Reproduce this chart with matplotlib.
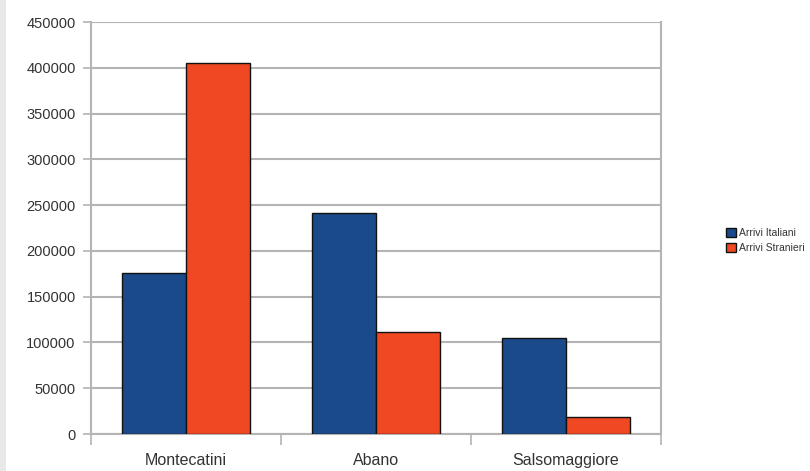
import numpy as np
import matplotlib
matplotlib.use("Agg")
import matplotlib.pyplot as plt
from matplotlib.patches import Rectangle

plt.rcParams['font.family'] = ['Liberation Sans', 'DejaVu Sans']

# dati
localita = ["Montecatini", "Abano", "Salsomaggiore"]
arrivi_italiani = [176000, 241000, 105000]
arrivi_stranieri = [405000, 111000, 19000]
serie = ["Arrivi Italiani", "Arrivi Stranieri"]
y_ticks = [0, 50000, 100000, 150000, 200000, 250000, 300000, 350000, 400000, 450000]

col_blu = "#1b4a8b"
col_rosso = "#f04822"
col_griglia = "#b4b4b4"

fig = plt.figure(figsize=(8.1, 4.71), dpi=100)
fig.patches.append(Rectangle((0, 0), 6 / 810, 1, transform=fig.transFigure,
                             facecolor="#e8e8e8", edgecolor="none"))
ax = fig.add_axes([91 / 810, 1 - 434 / 471, 570 / 810, 412 / 471])

x = np.arange(len(localita))
w = 0.335
ax.bar(x - w / 2, arrivi_italiani, w, color=col_blu, edgecolor="#111111",
       linewidth=1.0, label=serie[0], zorder=3)
ax.bar(x + w / 2, arrivi_stranieri, w, color=col_rosso, edgecolor="#111111",
       linewidth=1.0, label=serie[1], zorder=3)

ax.set_xlim(-0.5, len(localita) - 0.5)
ax.set_ylim(0, 450000)
ax.set_yticks(y_ticks)
ax.set_yticklabels([str(v) for v in y_ticks])
ax.yaxis.grid(True, color=col_griglia, linewidth=1.5, zorder=0)

# etichette categorie al centro, tacche tra le categorie
ax.set_xticks(x)
ax.set_xticklabels(localita)
ax.set_xticks(np.arange(len(localita) + 1) - 0.5, minor=True)
ax.tick_params(axis="x", which="major", length=0, pad=14, labelsize=11.5, labelcolor="#333333")
ax.tick_params(axis="x", which="minor", length=8, width=1.2, color=col_griglia)
ax.tick_params(axis="y", length=6, width=1.2, color=col_griglia, pad=5,
               labelsize=10.5, labelcolor="#333333")

for s in ax.spines.values():
    s.set_color(col_griglia)
    s.set_linewidth(1.5)
ax.spines["top"].set_visible(False)

ax.legend(loc="center left", bbox_to_anchor=(1.114, 0.47), frameon=False,
          fontsize=7.5, handlelength=0.95, handleheight=0.95, handletextpad=0.3,
          labelspacing=0.5, labelcolor="#333333", borderaxespad=0, borderpad=0)

fig.savefig("out.png", dpi=100)
